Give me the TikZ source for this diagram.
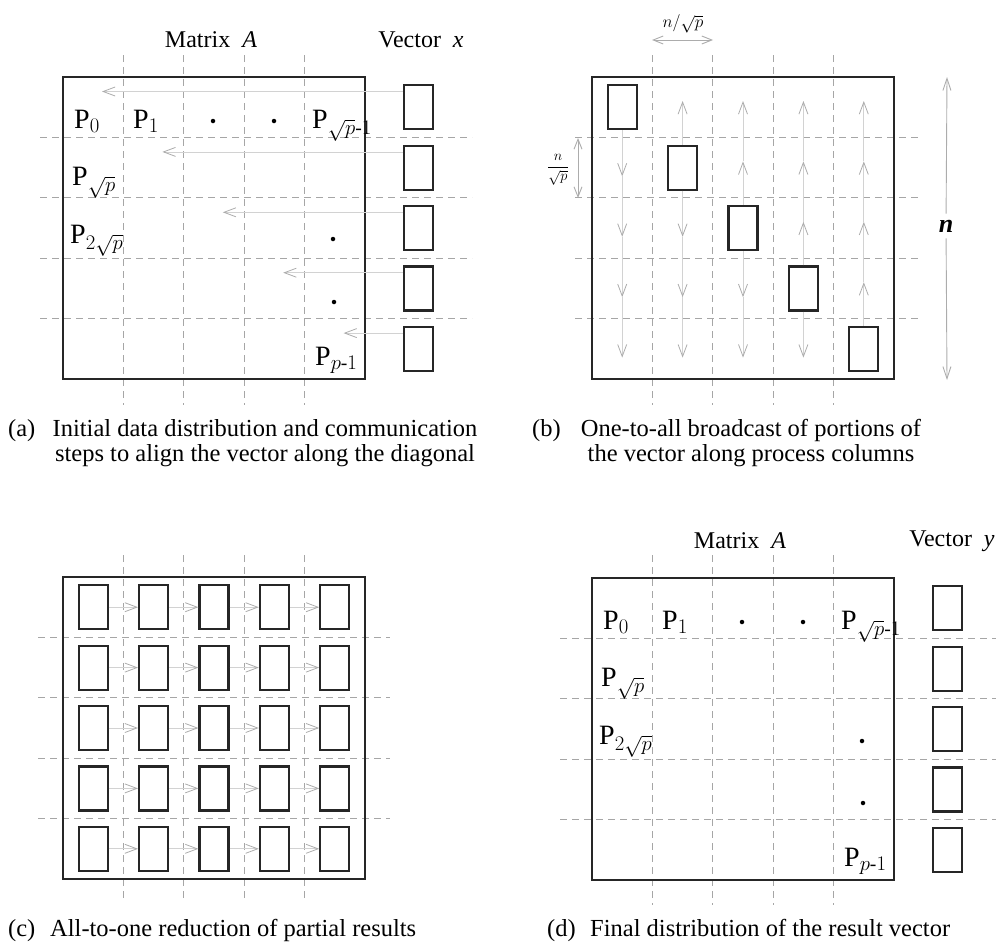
\documentclass[tikz,border=0pt]{standalone}
\usepackage{amsmath}
\usepackage{fontspec}
\setmainfont{Liberation Serif}
\usepackage{tikz}
\usetikzlibrary{arrows.meta}
\tikzset{grid line/.style={draw=gray!70, line width=1.1pt, dash pattern=on 7pt off 5pt},
    frame/.style={draw=black!85, line width=2.6pt},
    part/.style={rectangle, draw=black!85, fill=white, line width=2.2pt,
        minimum width=29pt, minimum height=44pt, inner sep=0pt},
    comm/.style={draw=gray!35, line width=0.8pt,
        -{Straight Barb[length=12pt,width=9pt,color=gray!65]}},
    dimarrow/.style={draw=gray!65, line width=0.9pt,
        {Straight Barb[length=10pt,width=8pt]}-{Straight Barb[length=10pt,width=8pt]}},
    halfarrow/.style={draw=gray!65, line width=0.9pt, -{Straight Barb[length=12pt,width=8pt]}},
    plabel/.style={anchor=base west, inner sep=0pt, font=\fontsize{28}{28}\selectfont},
    dotmark/.style={circle, fill=black, inner sep=0pt, minimum size=4.5pt},
    title/.style={inner sep=0pt, font=\fontsize{24}{24}\selectfont},
    caption/.style={anchor=base, inner sep=0pt, font=\fontsize{24.5}{25}\selectfont},
    captag/.style={caption, anchor=base west}}

\begin{document}
\begin{tikzpicture}[x=1pt, y=-1pt]
  \useasboundingbox (0,0) rectangle (996,948);

  % (a) initial distribution, vector moved to the diagonal
  \foreach \k in {1,...,4} {
    \draw[grid line] (63+60.4*\k,55) -- (63+60.4*\k,405);
    \draw[grid line] (40,77+60.4*\k) -- (472,77+60.4*\k);
  }
  \draw[frame] (63,77) rectangle (365,379);
  \node[title] (matA) at (211,40) {Matrix\ \ \textit{A}};
  \node[title] (vecx) at (421,40) {Vector\ \ \textit{x}};
  \foreach \i in {0,...,4} {
    \node[part] (xa\i) at (418.5,107.2+60.4*\i) {};
    \coordinate (ta\i) at (102+60.4*\i,91.5+60.4*\i);
    \draw[comm] (xa\i.west |- ta\i) -- (ta\i);
  }
  \node[plabel] (pa0) at (74,128) {P$_0$};
  \node[plabel] (pa1) at (133,128) {P$_1$};
  \node[dotmark] (da1) at (213,121) {};
  \node[dotmark] (da2) at (274,121) {};
  \node[plabel] (pa2) at (312,128) {P$_{\sqrt{p}\text{-}1}$};
  \node[plabel] (pa3) at (72,185) {P$_{\sqrt{p}}$};
  \node[plabel] (pa4) at (70,243) {P$_{2\sqrt{p}}$};
  \node[dotmark] (da3) at (333,239) {};
  \node[dotmark] (da4) at (334,302) {};
  \node[plabel] (pa5) at (315,365) {P$_{p\text{-}1}$};
  \node[captag] (tagA) at (8,436) {(a)};
  \node[caption] (capA1) at (265,436) {Initial data distribution and communication};
  \node[caption] (capA2) at (265,461) {steps to align the vector along the diagonal};

  % (b) broadcast along the columns
  \foreach \k in {1,...,4} {
    \draw[grid line] (592+60.4*\k,55) -- (592+60.4*\k,405);
    \draw[grid line] (575,77+60.4*\k) -- (922,77+60.4*\k);
  }
  \draw[frame] (592,77) rectangle (894,379);
  \foreach \i in {0,...,4} {
    \node[part] (db\i) at (622.2+60.4*\i,107.2+60.4*\i) {};
  }
  \foreach \j in {0,...,4} {
    \foreach \i in {0,...,4} {
      \coordinate (u\i\j) at (622.2+60.4*\j,101+60.4*\i);
      \coordinate (d\i\j) at (622.2+60.4*\j,116+60.4*\i);
    }
  }
  \foreach \j in {0,...,4} {
    \foreach \i in {0,...,4} {
      \pgfmathtruncatemacro{\below}{\i+1}
      \pgfmathtruncatemacro{\above}{\i-1}
      \ifnum\i<\j
        \ifnum\below=\j \draw[comm] (db\j.north) -- (u\i\j);
        \else \draw[comm] (u\below\j) -- (u\i\j); \fi
      \fi
      \ifnum\i>\j
        \ifnum\above=\j \draw[comm] (db\j.south) -- (d\i\j);
        \else \draw[comm] (d\above\j) -- (d\i\j); \fi
      \fi
    }
  }
  \node[font=\fontsize{18}{18}\selectfont, inner sep=0pt] (wn) at (683,24) {$n/\sqrt{p}$};
  \coordinate (w1) at (652,40);
  \coordinate (w2) at (713,40);
  \draw[dimarrow] (w1) -- (w2);
  \node[font=\fontsize{15}{15}\selectfont, inner sep=0pt] (hn) at (558,170) {$\dfrac{n}{\sqrt{p}}$};
  \coordinate (h1) at (578,138);
  \coordinate (h2) at (578,198);
  \draw[dimarrow] (h1) -- (h2);
  \node[font=\fontsize{26}{26}\selectfont, inner sep=6pt] (nn) at (946,226) {\textbf{\textit{n}}};
  \coordinate (n1) at (947,77);
  \coordinate (n2) at (947,380);
  \draw[halfarrow] (nn) -- (n1);
  \draw[halfarrow] (nn) -- (n2);
  \node[captag] (tagB) at (532,436) {(b)};
  \node[caption] (capB1) at (751,436) {One-to-all broadcast of portions of};
  \node[caption] (capB2) at (751,461) {the vector along process columns};

  % (c) reduction along the rows
  \foreach \k in {1,...,4} {
    \draw[grid line] (63+60.4*\k,555) -- (63+60.4*\k,902);
    \draw[grid line] (38,577+60.4*\k) -- (390,577+60.4*\k);
  }
  \draw[frame] (63,577) rectangle (365,879);
  \foreach \i in {0,...,4} {
    \foreach \j in {0,...,4} {
      \node[part] (c\i\j) at (93.2+60.4*\j,607.2+60.4*\i) {};
    }
  }
  \foreach \i in {0,...,4} {
    \foreach \j [evaluate=\j as \l using int(\j-1)] in {1,...,4} {
      \draw[comm] (c\i\l.east) -- (c\i\j.west);
    }
  }
  \node[captag] (tagC) at (8,936) {(c)};
  \node[caption, anchor=base west] (capC) at (50,936) {All-to-one reduction of partial results};

  % (d) result vector
  \foreach \k in {1,...,4} {
    \draw[grid line] (592+60.4*\k,555) -- (592+60.4*\k,905);
    \draw[grid line] (560,578+60.4*\k) -- (1000,578+60.4*\k);
  }
  \draw[frame] (592,578) rectangle (894,880);
  \node[title] (matD) at (740,541) {Matrix\ \ \textit{A}};
  \node[title] (vecy) at (952,541) {Vector\ \ \textit{y}};
  \foreach \i in {0,...,4} {
    \node[part] (yd\i) at (947.5,608.2+60.4*\i) {};
  }
  \node[plabel] (pd0) at (603,629) {P$_0$};
  \node[plabel] (pd1) at (662,629) {P$_1$};
  \node[dotmark] (dd1) at (742,622) {};
  \node[dotmark] (dd2) at (803,622) {};
  \node[plabel] (pd2) at (841,629) {P$_{\sqrt{p}\text{-}1}$};
  \node[plabel] (pd3) at (601,686) {P$_{\sqrt{p}}$};
  \node[plabel] (pd4) at (599,744) {P$_{2\sqrt{p}}$};
  \node[dotmark] (dd3) at (862,741) {};
  \node[dotmark] (dd4) at (863,803) {};
  \node[plabel] (pd5) at (844,866) {P$_{p\text{-}1}$};
  \node[captag] (tagD) at (547,936) {(d)};
  \node[caption, anchor=base west] (capD) at (590,936) {Final distribution of the result vector};
\end{tikzpicture}
\end{document}
